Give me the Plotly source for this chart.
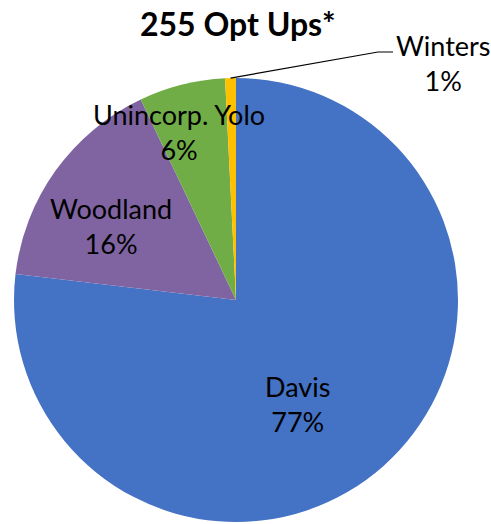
import math
import plotly.graph_objects as go

labels = ["Davis", "Woodland", "Unincorp. Yolo", "Winters"]
values = [196, 41, 16, 2]
colors = ["#4472C4", "#8064A2", "#70AD47", "#FFC000"]
title_text = "255 Opt Ups*"

W, H = 491, 524
CX, CY, R = 236, 300, 222  # pie centre and radius in pixels
FONT = "Lato, Calibri, sans-serif"
LABEL_SIZE = 27

fig = go.Figure(go.Pie(
    labels=labels, values=values, sort=False, direction="clockwise", rotation=0,
    marker=dict(colors=colors, line=dict(width=0)),
    textinfo="none", hoverinfo="label+percent",
    domain=dict(x=[(CX - R) / W, (CX + R) / W], y=[1 - (CY + R) / H, 1 - (CY - R) / H]),
    showlegend=False,
))

total = sum(values)
# label placement: (radius fraction, angle tweak in degrees)
label_place = [(0.543, 11), (0.653, -5), (0.80, -4.5), None]

def to_paper(x, y):
    return x / W, 1 - y / H

annotations = []
cum = 0
mids = []
for lab, v, pl in zip(labels, values, label_place):
    mid = (cum + v / 2) / total * 360
    mids.append(mid)
    cum += v
    pct = round(v / total * 100)
    if pl is None:
        continue
    ang = math.radians(mid + pl[1])
    px = CX + R * pl[0] * math.sin(ang)
    py = CY - R * pl[0] * math.cos(ang)
    xp, yp = to_paper(px, py)
    annotations.append(dict(
        x=xp, y=yp, xref="paper", yref="paper",
        text=f"{lab}<br>{pct}%", showarrow=False,
        font=dict(family=FONT, size=LABEL_SIZE, color="#000000"),
        xanchor="center", yanchor="middle",
    ))

# Winters outside label with leader line
wi = 3
pct_w = round(values[wi] / total * 100)
xp, yp = to_paper(443, 63)
annotations.append(dict(
    x=xp, y=yp, xref="paper", yref="paper",
    text=f"{labels[wi]}<br>{pct_w}%", showarrow=False,
    font=dict(family=FONT, size=LABEL_SIZE, color="#000000"),
    xanchor="center", yanchor="middle",
))
ang = math.radians(mids[wi])
ex = CX + R * math.sin(ang)
ey = CY - R * math.cos(ang)
p0 = to_paper(ex, ey)
p1 = to_paper(378, 52)
p2 = to_paper(393, 52)

xp, yp = to_paper(238, 24)
annotations.append(dict(
    x=xp, y=yp, xref="paper", yref="paper",
    text=f"<b>{title_text}</b>", showarrow=False,
    font=dict(family=FONT, size=32, color="#000000"),
    xanchor="center", yanchor="middle",
))

fig.update_layout(
    width=W, height=H, margin=dict(l=0, r=0, t=0, b=0),
    paper_bgcolor="white", plot_bgcolor="white",
    annotations=annotations,
    shapes=[dict(type="path", xref="paper", yref="paper",
                 path=f"M {p0[0]},{p0[1]} L {p1[0]},{p1[1]} L {p2[0]},{p2[1]}",
                 line=dict(color="#000000", width=1.2))],
)

fig.write_html("out.html", config={"displayModeBar": False},
               post_script="document.body.style.margin='0';document.body.style.overflow='hidden';")
